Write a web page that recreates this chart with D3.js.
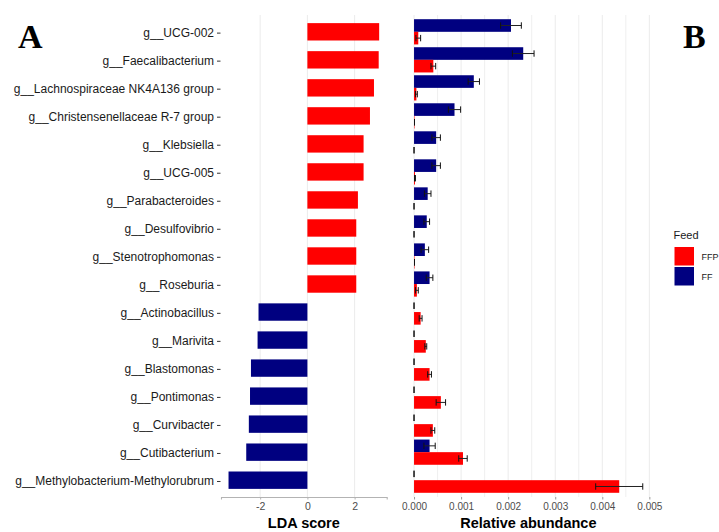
<!DOCTYPE html>
<html>
<head>
<meta charset="utf-8">
<script src="https://cdn.jsdelivr.net/npm/d3@7"></script>
<style>
  body { margin: 0; background: #fff; }
  svg { display: block; font-family: Arial, "Liberation Sans", sans-serif; }
</style>
</head>
<body>
<svg id="chart" width="719" height="532"></svg>
<script>
// Genera ranked by LDA score (FFP-enriched first, FF-enriched last)
const genera = [
  "g__UCG-002", "g__Faecalibacterium", "g__Lachnospiraceae NK4A136 group",
  "g__Christensenellaceae R-7 group", "g__Klebsiella", "g__UCG-005",
  "g__Parabacteroides", "g__Desulfovibrio", "g__Stenotrophomonas", "g__Roseburia",
  "g__Actinobacillus", "g__Marivita", "g__Blastomonas", "g__Pontimonas",
  "g__Curvibacter", "g__Cutibacterium", "g__Methylobacterium-Methylorubrum"
];
const ldaScore = [3.04, 3.02, 2.82, 2.65, 2.38, 2.38, 2.14, 2.07, 2.07, 2.07,
  -2.07, -2.11, -2.39, -2.43, -2.48, -2.59, -3.34];

// Mean relative abundance and standard error per feed group
const ffMean  = [0.00206, 0.00232, 0.00127, 0.00086, 0.00047, 0.00047, 0.00029, 0.00027, 0.00023, 0.00033,
  0, 0, 0, 0, 0, 0.00033, 0];
const ffSe    = [0.00022, 0.00023, 0.00012, 0.00013, 0.00009, 0.00009, 0.00007, 0.00006, 0.00008, 0.00007,
  0, 0, 0, 0, 0, 0.00012, 0];
const ffpMean = [0.00009, 0.00041, 0.00005, 0.00001, 0, 0.00002, 0, 0, 0.00001, 0.00006,
  0.00014, 0.00025, 0.00033, 0.00057, 0.00040, 0.00104, 0.00436];
const ffpSe   = [0.00005, 0.00005, 0.00002, 0, 0, 0.00001, 0, 0, 0, 0.00003,
  0.00003, 0.00002, 0.00004, 0.00010, 0.00004, 0.00009, 0.00050];

const groups = ["FFP", "FF"];
const groupColors = ["#ff0000", "#000080"];
const ldaTicks = [-2, 0, 2];
const abundTicks = [0, 0.001, 0.002, 0.003, 0.004, 0.005];

const svg = d3.select("#chart");
const color = d3.scaleOrdinal().domain(groups).range(groupColors);
const gridColor = "#ebebeb";

const panelTop = 15, panelBottom = 497;

// ggplot-style 5% expansion of a continuous range
function expand(lo, hi) {
  const pad = (hi - lo) * 0.05;
  return [lo - pad, hi + pad];
}

// Shared discrete row scale
const y = d3.scalePoint().domain(genera).range([panelTop, panelBottom]).padding(0.6);
const step = y.step();

/* ---------- Panel A: LDA score ---------- */
const ax0 = 221, ax1 = 386.7;
const xL = d3.scaleLinear()
  .domain(expand(d3.min(ldaScore.concat(0)), d3.max(ldaScore.concat(0))))
  .range([ax0, ax1]);

const gA = svg.append("g");
gA.selectAll("line.grid").data(ldaTicks).join("line")
  .attr("x1", d => xL(d)).attr("x2", d => xL(d))
  .attr("y1", panelTop).attr("y2", panelBottom)
  .attr("stroke", gridColor).attr("stroke-width", 1);

const barH = step * 0.62;
gA.selectAll("rect.lda").data(genera).join("rect")
  .attr("x", (d, i) => xL(Math.min(0, ldaScore[i])))
  .attr("width", (d, i) => Math.abs(xL(ldaScore[i]) - xL(0)))
  .attr("y", d => y(d) - barH / 2)
  .attr("height", barH)
  .attr("fill", (d, i) => ldaScore[i] > 0 ? color("FFP") : color("FF"));

// y axis: labels with short tick marks
const yAxis = d3.axisLeft(y).tickSize(3.5).tickPadding(3);
const gy = gA.append("g").attr("transform", `translate(${ax0 - 0.5},0.8)`).call(yAxis);
gy.select(".domain").remove();
gy.selectAll(".tick line").attr("stroke", "#333");
gy.selectAll(".tick text").attr("fill", "#1a1a1a").style("font-size", "12px");

// x axis
const xAxisL = d3.axisBottom(xL).tickValues(ldaTicks).tickSize(2.5).tickPadding(3)
  .tickFormat(d => d < 0 ? "-" + Math.abs(d) : d);
const gxL = gA.append("g").attr("transform", `translate(0,${panelBottom})`).call(xAxisL);
gxL.select(".domain").attr("stroke", "#b3b3b3").attr("stroke-width", 1.1);
gxL.selectAll(".tick line").attr("stroke", "#b3b3b3");
gxL.selectAll(".tick text").attr("fill", "#4d4d4d").style("font-size", "10.5px");

gA.append("text").attr("x", (ax0 + ax1) / 2).attr("y", 528)
  .attr("text-anchor", "middle").style("font-size", "14.5px").style("font-weight", "bold")
  .attr("fill", "#000").text("LDA score");

gA.append("text").attr("x", 18).attr("y", 48)
  .style("font-family", "'Liberation Serif', 'Times New Roman', serif")
  .style("font-size", "34px").style("font-weight", "bold").text("A");

/* ---------- Panel B: relative abundance ---------- */
const bx0 = 402.6, bx1 = 654.2;
const abundMax = d3.max(ffpMean.map((m, i) => m + ffpSe[i]).concat(ffMean.map((m, i) => m + ffSe[i])));
const xR = d3.scaleLinear().domain(expand(0, abundMax)).range([bx0, bx1]);

const gB = svg.append("g");
const minorTicks = d3.range(0.0005, 0.0051, 0.001);
gB.selectAll("line.minor").data(minorTicks).join("line")
  .attr("x1", d => xR(d)).attr("x2", d => xR(d))
  .attr("y1", panelTop).attr("y2", panelBottom)
  .attr("stroke", gridColor).attr("stroke-width", 0.8);
gB.selectAll("line.major").data(abundTicks).join("line")
  .attr("x1", d => xR(d)).attr("x2", d => xR(d))
  .attr("y1", panelTop).attr("y2", panelBottom)
  .attr("stroke", gridColor).attr("stroke-width", 1);

// dodged bars: FF on top, FFP below within each row
const dodgeW = step * 0.9;
const sub = d3.scaleBand().domain(["FF", "FFP"]).range([-dodgeW / 2, dodgeW / 2]);
const rows = [];
genera.forEach((g, i) => {
  rows.push({ genus: g, group: "FF", mean: ffMean[i], se: ffSe[i] });
  rows.push({ genus: g, group: "FFP", mean: ffpMean[i], se: ffpSe[i] });
});

gB.selectAll("rect.ab").data(rows).join("rect")
  .attr("x", xR(0))
  .attr("width", d => xR(d.mean) - xR(0))
  .attr("y", d => y(d.genus) + sub(d.group))
  .attr("height", sub.bandwidth())
  .attr("fill", d => color(d.group));

// error bars
const capH = 3.2;
const eb = gB.selectAll("g.eb").data(rows).join("g")
  .attr("transform", d => `translate(0,${y(d.genus) + sub(d.group) + sub.bandwidth() / 2})`);
eb.append("line")
  .attr("x1", d => xR(d.mean - d.se)).attr("x2", d => xR(d.mean + d.se))
  .attr("y1", 0).attr("y2", 0).attr("stroke", "#222").attr("stroke-width", 1);
eb.append("line")
  .attr("x1", d => xR(d.mean - d.se)).attr("x2", d => xR(d.mean - d.se))
  .attr("y1", -capH).attr("y2", capH).attr("stroke", "#111").attr("stroke-width", 1);
eb.append("line")
  .attr("x1", d => xR(d.mean + d.se)).attr("x2", d => xR(d.mean + d.se))
  .attr("y1", -capH).attr("y2", capH).attr("stroke", "#111").attr("stroke-width", 1);

const xAxisR = d3.axisBottom(xR).tickValues(abundTicks).tickSize(2.5).tickPadding(3.5)
  .tickFormat(d3.format(".3f"));
const gxR = gB.append("g").attr("transform", `translate(0,${panelBottom})`).call(xAxisR);
gxR.select(".domain").remove();
gxR.selectAll(".tick line").attr("stroke", "#999");
gxR.selectAll(".tick text").attr("fill", "#4d4d4d").style("font-size", "10px");

gB.append("text").attr("x", (bx0 + bx1) / 2).attr("y", 528)
  .attr("text-anchor", "middle").style("font-size", "14.5px").style("font-weight", "bold")
  .attr("fill", "#000").text("Relative abundance");

gB.append("text").attr("x", 683).attr("y", 48)
  .style("font-family", "'Liberation Serif', 'Times New Roman', serif")
  .style("font-size", "34px").style("font-weight", "bold").text("B");

/* ---------- Legend ---------- */
const lg = svg.append("g").attr("transform", "translate(674.5,0)");
lg.append("text").attr("x", -1).attr("y", 239).style("font-size", "11px")
  .attr("fill", "#1a1a1a").text("Feed");
const keys = lg.selectAll("g.key").data(groups).join("g")
  .attr("transform", (d, i) => `translate(0,${247 + i * 20})`);
keys.append("rect").attr("width", 19.5).attr("height", 18.5)
  .attr("fill", d => color(d));
keys.append("text").attr("x", 27).attr("y", 12.5).style("font-size", "9px")
  .attr("fill", "#1a1a1a").text(d => d);
</script>
</body>
</html>
